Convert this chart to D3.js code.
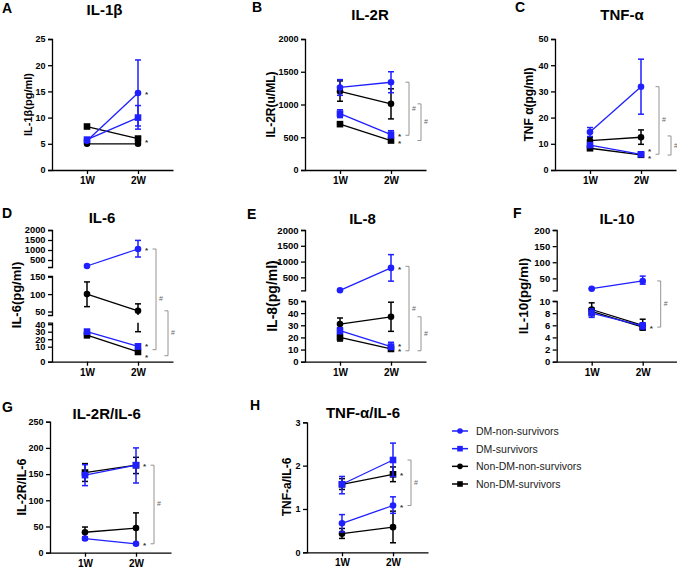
<!DOCTYPE html>
<html><head><meta charset="utf-8">
<script src="https://cdn.jsdelivr.net/npm/d3@7"></script>
<style>body{margin:0;background:#fff} svg{display:block} text{font-family:"Liberation Sans",Arial,Helvetica,sans-serif}</style>
</head><body>
<svg id="c" width="677" height="567"></svg>
<script>
// ---------- data ----------
const timepoints = ['1W','2W'];
const seriesNames = ['DM-non-survivors','DM-survivors','Non-DM-non-survivors','Non-DM-survivors'];
const seriesColors = ['#1f1fff','#1f1fff','#000000','#000000'];
const seriesShapes = ['circle','square','circle','square'];
// each array: [DM-non-survivors, DM-survivors, Non-DM-non-survivors, Non-DM-survivors], each [1W, 2W]

// A IL-1β
const il1bMean = [[5.6,14.7],[5.8,10.0],[5.0,5.0],[8.3,6.0]];
const il1bLow  = [[5.3,8.4],[5.5,7.8],[4.9,4.9],[8.1,5.8]];
const il1bHigh = [[5.9,21.0],[6.1,12.3],[5.1,5.1],[8.5,6.2]];
const il1bTicks = [0,5,10,15,20,25];
const il1bStars = [14.7,5.6];
const il1bBrackets = [];

// B IL-2R
const il2rMean = [[1260,1340],[860,540],[1200,1010],[700,450]];
const il2rLow  = [[1140,1180],[800,490],[1050,780],[680,430]];
const il2rHigh = [[1380,1500],[920,600],[1360,1240],[720,470]];
const il2rTicks = [0,500,1000,1500,2000];
const il2rStars = [540,420];
const il2rBrackets = [[1340,530],[1010,450]];

// C TNF-α
const tnfMean = [[14.5,31.8],[9.5,6.0],[11.2,12.5],[8.3,5.8]];
const tnfLow  = [[12.8,21.3],[9.0,5.5],[10.0,9.8],[7.8,5.4]];
const tnfHigh = [[16.2,42.3],[10.0,6.5],[12.5,15.3],[8.8,6.2]];
const tnfTicks = [0,10,20,30,40,50];
const tnfStars = [7.6,5.0];
const tnfBrackets = [[31.8,6.0],[13.0,5.7]];

// D IL-6 (broken axis)
const il6Mean = [[200,1050],[30,10.5],[100,52],[25.5,6.5]];
const il6Low  = [[190,650],[27,8.5],[64,30],[22,5.5]];
const il6High = [[210,1480],[33,12.5],[135,72],[28.5,7.5]];
const il6TicksTop = [500,1000,1500,2000];
const il6TicksMid = [50,100,150];
const il6TicksBot = [0,10,20,30,40];
const il6Stars = [1050,12,3.5];
const il6Brackets = [[1050,8],[52,4]];

// E IL-8 (broken axis)
const il8Mean = [[90,800],[25.5,12.5],[31,37],[20,10.5]];
const il8Low  = [[88,380],[23,10],[27,25],[17,9]];
const il8High = [[92,1220],[28,16],[36,49],[22.5,12]];
const il8TicksTop = [500,1000,1500,2000];
const il8TicksBot = [0,10,20,30,40,50];
const il8Stars = [800,13.8,9.6];
const il8Brackets = [[850,9],[37,9]];

// F IL-10 (broken axis)
const il10Mean = [[18,42],[8.0,5.9],[8.6,6.0],[8.3,5.7]];
const il10Low  = [[17,32],[7.3,5.4],[7.6,5.2],[7.8,5.3]];
const il10High = [[19,57],[8.7,6.4],[9.7,7.0],[8.8,6.2]];
const il10TicksTop = [50,100,150,200];
const il10TicksBot = [0,2,4,6,8,10];
const il10Stars = [5.7];
const il10Brackets = [[42,5.7]];

// G IL-2R/IL-6
const r1Mean = [[27,17],[148,167],[39,47],[153,167]];
const r1Low  = [[24,15],[128,133],[30,17],[136,151]];
const r1High = [[30,19],[168,200],[49,76],[170,182]];
const r1Ticks = [0,50,100,150,200,250];
const r1Stars = [167,17];
const r1Brackets = [[167,17]];

// H TNF-α/IL-6
const r2Mean = [[0.67,1.08],[1.57,2.13],[0.43,0.58],[1.57,1.80]];
const r2Low  = [[0.47,0.90],[1.35,1.75],[0.32,0.22],[1.45,1.63]];
const r2High = [[0.87,1.28],[1.75,2.52],[0.55,0.95],[1.70,1.97]];
const r2Ticks = [0,1,2,3];
const r2Stars = [1.8,1.08];
const r2Brackets = [[2.13,1.08]];

// ---------- layout ----------
const panels = [
 {letter:'A', lx:2, ly:13, title:'IL-1β', tx:104.5, ty:14.6, ylab:'IL-1β(pg/ml)', ylx:28, yly:104.5, ylfs:11, tfs:9, ax:52,
  mean:il1bMean, low:il1bLow, high:il1bHigh, stars:il1bStars, brackets:il1bBrackets,
  segs:[{dom:[0,25], rng:[170,39], ticks:il1bTicks}]},
 {letter:'B', lx:252, ly:12, title:'IL-2R', tx:370, ty:20.3, ylab:'IL-2R(u/ML)', ylx:270.7, yly:104.5, ylfs:12, tfs:9, ax:305,
  mean:il2rMean, low:il2rLow, high:il2rHigh, stars:il2rStars, brackets:il2rBrackets,
  segs:[{dom:[0,2000], rng:[170,39], ticks:il2rTicks}]},
 {letter:'C', lx:515, ly:12, title:'TNF-α', tx:622, ty:20.3, ylab:'TNF α(pg/ml)', ylx:529, yly:104.5, ylfs:12, tfs:9, ax:555,
  mean:tnfMean, low:tnfLow, high:tnfHigh, stars:tnfStars, brackets:tnfBrackets,
  segs:[{dom:[0,50], rng:[170,39], ticks:tnfTicks}]},
 {letter:'D', lx:2, ly:218, title:'IL-6', tx:102, ty:223.3, ylab:'IL-6(pg/ml)', ylx:16.7, yly:295, ylfs:13, tfs:9.3, ax:52,
  mean:il6Mean, low:il6Low, high:il6High, stars:il6Stars, brackets:il6Brackets,
  segs:[{dom:[150,2000], rng:[267,230], ticks:il6TicksTop},
        {dom:[40,152], rng:[315,276], ticks:il6TicksMid},
        {dom:[0,10,42], rng:[361.7,346.7,322.7], ticks:il6TicksBot}]},
 {letter:'E', lx:247, ly:219, title:'IL-8', tx:362.5, ty:224.3, ylab:'IL-8(pg/ml)', ylx:271.7, yly:296, ylfs:14, tfs:9.5, ax:305,
  mean:il8Mean, low:il8Low, high:il8High, stars:il8Stars, brackets:il8Brackets,
  segs:[{dom:[90,2000], rng:[290.3,230], ticks:il8TicksTop},
        {dom:[0,50], rng:[361.7,301], ticks:il8TicksBot}]},
 {letter:'F', lx:513, ly:218, title:'IL-10', tx:617, ty:224.3, ylab:'IL-10(pg/ml)', ylx:523, yly:296, ylfs:13.5, tfs:9.5, ax:556.7,
  mean:il10Mean, low:il10Low, high:il10High, stars:il10Stars, brackets:il10Brackets,
  segs:[{dom:[13,200], rng:[290.3,230], ticks:il10TicksTop},
        {dom:[0,10], rng:[361.7,301], ticks:il10TicksBot}]},
 {letter:'G', lx:2, ly:411.7, title:'IL-2R/IL-6', tx:106.7, ty:418.6, ylab:'IL-2R/IL-6', ylx:21.7, yly:487, ylfs:12.5, tfs:9, ax:50,
  mean:r1Mean, low:r1Low, high:r1High, stars:r1Stars, brackets:r1Brackets,
  segs:[{dom:[0,250], rng:[552.7,421.7], ticks:r1Ticks}]},
 {letter:'H', lx:250, ly:410, title:'TNF-α/IL-6', tx:363, ty:418, ylab:'TNF-a/IL-6', ylx:286.7, yly:487, ylfs:12, tfs:9, ax:307,
  mean:r2Mean, low:r2Low, high:r2High, stars:r2Stars, brackets:r2Brackets,
  segs:[{dom:[0,3], rng:[552.3,422.3], ticks:r2Ticks}]}
];

const svg = d3.select('#c');
const FONT = '"Liberation Sans",Arial,Helvetica,sans-serif';

function drawPanel(p){
  const g = svg.append('g');
  const x = d3.scalePoint().domain(timepoints).range([p.ax, p.ax+121]).padding(0.686);
  const segs = p.segs.map(s => ({...s, lo:d3.min(s.dom), hi:d3.max(s.dom), scale:d3.scaleLinear().domain(s.dom).range(s.rng)}));
  const segOf = v => segs.find(s => v>=s.lo && v<=s.hi) ||
      segs.reduce((a,b) => (Math.min(Math.abs(v-a.lo),Math.abs(v-a.hi)) < Math.min(Math.abs(v-b.lo),Math.abs(v-b.hi)) ? a : b));
  const yOf = v => { const s = segOf(v); return s.scale(Math.max(s.lo, Math.min(s.hi, v))); };

  // y axes
  segs.forEach(s => {
    const ax = g.append('g').attr('transform',`translate(${p.ax},0)`)
      .call(d3.axisLeft(s.scale).tickValues(s.ticks).tickFormat(d => String(d)).tickSize(4).tickSizeOuter(4).tickPadding(2.5));
    ax.selectAll('path,line').attr('stroke','#000').attr('stroke-width',1.3);
    ax.selectAll('text').attr('font-family',FONT).attr('font-weight','bold').attr('font-size',p.tfs).attr('fill','#000');
  });
  // x axis
  const base = segs[segs.length-1].rng[0];
  const xa = g.append('g').attr('transform',`translate(0,${base})`)
    .call(d3.axisBottom(x).tickSize(4).tickSizeOuter(0).tickPadding(3));
  xa.selectAll('path,line').attr('stroke','#000').attr('stroke-width',1.3);
  xa.selectAll('text').attr('font-family',FONT).attr('font-weight','bold').attr('font-size',10).attr('fill','#000');

  // letter, title, y label
  g.append('text').attr('x',p.lx).attr('y',p.ly).text(p.letter)
    .attr('font-weight','bold').attr('font-size',14).attr('fill','#000');
  g.append('text').attr('x',p.tx).attr('y',p.ty).attr('text-anchor','middle').text(p.title)
    .attr('font-weight','bold').attr('font-size',15).attr('fill','#000');
  g.append('text').attr('transform',`translate(${p.ylx},${p.yly}) rotate(-90)`).attr('text-anchor','middle')
    .attr('dominant-baseline','central').text(p.ylab)
    .attr('font-weight','bold').attr('font-size',p.ylfs).attr('fill','#000');

  // series (black first so blue lies on top)
  [3,2,1,0].forEach(si => {
    const col = seriesColors[si];
    const m = p.mean[si], lo = p.low[si], hi = p.high[si];
    // error bars, drawn piecewise inside each axis segment
    timepoints.forEach((t,ti) => {
      const cx = x(t);
      segs.forEach(s => {
        const a = Math.max(lo[ti], s.lo), b = Math.min(hi[ti], s.hi);
        if (a > b) return;
        g.append('line').attr('x1',cx).attr('x2',cx).attr('y1',s.scale(a)).attr('y2',s.scale(b))
          .attr('stroke',col).attr('stroke-width',1.5);
        [lo[ti], hi[ti]].forEach(v => {
          if (v>=s.lo && v<=s.hi) g.append('line').attr('x1',cx-3).attr('x2',cx+3)
            .attr('y1',s.scale(v)).attr('y2',s.scale(v)).attr('stroke',col).attr('stroke-width',1.5);
        });
      });
    });
    // connecting line
    g.append('path').attr('d', d3.line().x((d,i)=>x(timepoints[i])).y(d=>yOf(d))(m))
      .attr('fill','none').attr('stroke',col).attr('stroke-width',1.3);
    // markers
    m.forEach((v,i) => {
      const cx = x(timepoints[i]), cy = yOf(v);
      if (seriesShapes[si]==='circle') g.append('circle').attr('cx',cx).attr('cy',cy).attr('r',3.3).attr('fill',col);
      else g.append('rect').attr('x',cx-3.3).attr('y',cy-3.3).attr('width',6.6).attr('height',6.6).attr('fill',col);
    });
  });

  // significance stars
  p.stars.forEach(v => {
    g.append('text').attr('x',x('2W')+7).attr('y',yOf(v)+4).text('*')
      .attr('font-size',8).attr('font-weight','bold').attr('fill','#333');
  });
  // brackets
  p.brackets.forEach((br,i) => {
    const bx = p.ax + (i===0 ? 104 : 116);
    const y1 = yOf(br[0]), y2 = yOf(br[1]);
    g.append('path').attr('d',`M${bx-3.5},${y1}H${bx}V${y2}H${bx-3.5}`)
      .attr('fill','none').attr('stroke','#888').attr('stroke-width',0.9);
    g.append('text').attr('x',bx+3).attr('y',(y1+y2)/2+2).text('#')
      .attr('font-size',7).attr('fill','#666');
  });
}
panels.forEach(drawPanel);

// legend
const legY = d3.scalePoint().domain(seriesNames).range([431,484]);
const leg = svg.append('g');
seriesNames.forEach((n,i) => {
  const y = legY(n), col = seriesColors[i];
  leg.append('line').attr('x1',452).attr('x2',468).attr('y1',y).attr('y2',y).attr('stroke',col).attr('stroke-width',1.5);
  if (seriesShapes[i]==='circle') leg.append('circle').attr('cx',460).attr('cy',y).attr('r',2.8).attr('fill',col);
  else leg.append('rect').attr('x',457.2).attr('y',y-2.8).attr('width',5.6).attr('height',5.6).attr('fill',col);
  leg.append('text').attr('x',476).attr('y',y+4).text(n).attr('font-size',10.5).attr('fill','#222');
});
</script>
</body></html>
